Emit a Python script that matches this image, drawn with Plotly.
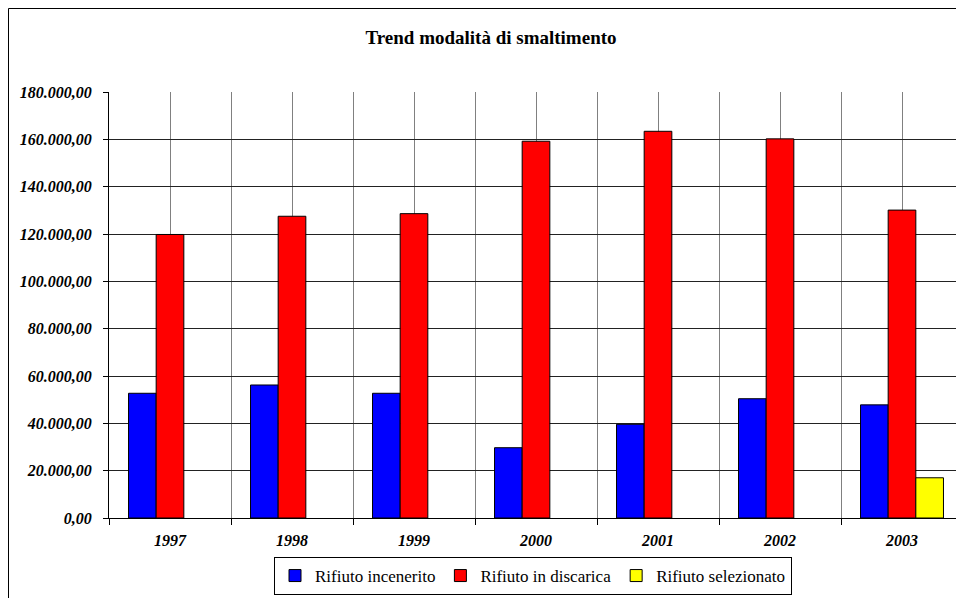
import plotly.graph_objects as go

years = ["1997", "1998", "1999", "2000", "2001", "2002", "2003"]
incenerito = [52700, 56200, 52700, 29700, 39600, 50400, 47800]
discarica = [119800, 127500, 128600, 159200, 163400, 160200, 130100]
selezionato = [None, None, None, None, None, None, 17000]
y_ticks = [0, 20000, 40000, 60000, 80000, 100000, 120000, 140000, 160000, 180000]

FONT = "Liberation Serif, Times New Roman, serif"
OFF = 8  # page body margin of the html
W, H = 964 - OFF, 598 - OFF
# plot area in page pixels: x 109..963, y 92..518
L, R, T, B = 109 - OFF, 964 - 963, 92 - OFF, 598 - 518
pw, ph = W - L - R, H - T - B

xpos = list(range(len(years)))
bounds = [i - 0.5 for i in range(len(years) + 1)]

fig = go.Figure()
series = [
    ("Rifiuto incenerito", incenerito, "#0000FF"),
    ("Rifiuto in discarica", discarica, "#FF0000"),
    ("Rifiuto selezionato", selezionato, "#FFFF00"),
]
for name, vals, col in series:
    fig.add_trace(go.Bar(
        x=xpos, y=vals, name=name,
        marker=dict(color=col, line=dict(color="#000000", width=1)),
    ))

def px_x(p):  # page px -> paper
    return (p - OFF - L) / pw

def px_y(p):
    return (H - B - (p - OFF)) / ph

tickfont = dict(family=FONT, size=16, color="black", weight="bold", style="italic")

fig.update_layout(
    width=W, height=H,
    margin=dict(l=L, r=R, t=T, b=B),
    paper_bgcolor="white", plot_bgcolor="white",
    font=dict(family=FONT, color="black"),
    separators=",.",
    barmode="group", bargap=0.32, bargroupgap=0,
    title=dict(text="<b>Trend modalità di smaltimento</b>",
               font=dict(family=FONT, size=19, color="black"),
               x=(491 - OFF) / W, xanchor="center", xref="container",
               y=1 - (37 - OFF) / H, yanchor="middle", yref="container"),
    xaxis=dict(
        range=[-0.5, len(years) - 0.5],
        tickmode="array", tickvals=xpos, ticktext=years,
        ticks="", showgrid=True, gridcolor="#808080", gridwidth=1,
        tickfont=tickfont,
        ticklabelstandoff=8,
        showline=True, linecolor="black", linewidth=1,
        zeroline=False, fixedrange=True,
        minor=dict(tickmode="array", tickvals=bounds, ticks="outside", ticklen=6,
                   tickcolor="black", showgrid=True, gridcolor="#808080", gridwidth=1),
    ),
    yaxis=dict(
        range=[0, 180000],
        tickmode="array", tickvals=y_ticks, tickformat=",.2f",
        ticks="outside", ticklen=5, tickcolor="black",
        showgrid=True, gridcolor="#222222", gridwidth=1,
        tickfont=tickfont,
        ticklabelstandoff=8,
        showline=True, linecolor="black", linewidth=1,
        zeroline=False, fixedrange=True,
    ),
    legend=dict(
        orientation="h", x=px_x(533), xanchor="center",
        y=px_y(557), yanchor="top",
        font=dict(family=FONT, size=17, color="black"),
        bordercolor="black", borderwidth=1, bgcolor="white",
        itemwidth=30, tracegroupgap=0,
    ),
    shapes=[dict(type="rect", xref="paper", yref="paper",
                 x0=px_x(8.5), x1=px_x(975), y0=px_y(615), y1=px_y(8.5),
                 line=dict(color="black", width=1), fillcolor="rgba(0,0,0,0)",
                 layer="below")],
)

fig.write_html("out.html")
